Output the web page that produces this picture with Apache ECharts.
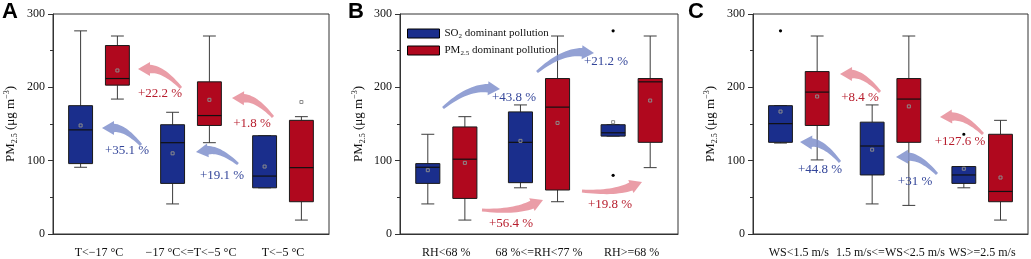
<!DOCTYPE html>
<html>
<head>
<meta charset="UTF-8">
<title>PM2.5 under SO2 / PM2.5 dominant pollution</title>
<script src="https://cdn.jsdelivr.net/npm/echarts@6/dist/echarts.min.js"></script>
<style>
  html, body { margin: 0; padding: 0; background: #fff; }
  #chart { width: 1031px; height: 259px; }
</style>
</head>
<body>
<div id="chart"></div>
<script>
// box stats are [min, Q1, median, Q3, max]
var catsA = ['T<\u221217 \u00B0C', '\u221217 \u00B0C<=T<\u22125 \u00B0C', 'T<\u22125 \u00B0C'];
var so2A = [[91, 96, 142, 175, 277], [41, 69, 124.5, 149, 166], [63, 63, 79, 134, 134]];
var so2MeanA = [148, 110, 92];
var pmA = [[184, 203, 212, 257, 270], [124.5, 148, 161.5, 207.5, 270], [19, 44, 90.5, 155, 160]];
var pmMeanA = [223, 183, 180];

var catsB = ['RH<68 %', '68 %<=RH<77 %', 'RH>=68 %'];
var so2B = [[41, 69, 91, 96, 136], [63, 70, 125, 166.5, 176], [133.5, 133.5, 138, 149, 149]];
var so2MeanB = [87, 127, 152.5];
var so2OutB = [[2, 277], [2, 80]];
var pmB = [[19, 48.5, 102, 146, 160], [44, 60, 173, 212, 270], [90.5, 125, 207.5, 212, 270]];
var pmMeanB = [97, 151.5, 182];

var catsC = ['WS<1.5 m/s', '1.5 m/s<=WS<2.5 m/s', 'WS>=2.5 m/s'];
var so2C = [[124, 125, 150.5, 175, 175], [41, 80.5, 120, 152.5, 176], [63, 69, 80.5, 92, 92]];
var so2MeanC = [167, 115, 89];
var so2OutC = [[0, 277], [2, 136]];
var pmC = [[101, 148, 193.5, 221.5, 270], [39, 125, 184, 212, 270], [19, 44, 58, 136, 155]];
var pmMeanC = [187.5, 174, 77];

var notesA = ['+22.2 %', '+1.8 %', '+35.1 %', '+19.1 %'];
var notesB = ['+43.8 %', '+21.2 %', '+56.4 %', '+19.8 %'];
var notesC = ['+8.4 %', '+127.6 %', '+44.8 %', '+31 %'];

var yTicks = [0, 100, 200, 300];

var BLUE = '#1a2e8c', RED = '#b0081e';
var TXT_BLUE = '#34469a', TXT_RED = '#b71c2c';
var ARR_BLUE = 'rgba(128,145,205,0.85)', ARR_RED = 'rgba(230,140,152,0.85)';
var SERIF = '"Liberation Serif", "Times New Roman", serif';
var SO2_NAME = 'SO2 dominant pollution', PM_NAME = 'PM2.5 dominant pollution';

var chart = echarts.init(document.getElementById('chart'));

function boxSeries(name, g, stats, means, color, shift) {
    return {
        name: name,
        type: 'custom',
        xAxisIndex: g,
        yAxisIndex: g,
        itemStyle: { color: color },
        encode: { x: 0, y: [1, 2, 3, 4, 5] },
        data: stats.map(function (s, i) { return [i, s[0], s[1], s[2], s[3], s[4], means[i]]; }),
        renderItem: function (params, api) {
            var cat = api.value(0);
            var band = api.size([1, 0])[0];
            var x = api.coord([cat, 0])[0] + shift * band;
            var hw = band * 0.13, cap = band * 0.07;
            function y(i) { return api.coord([cat, api.value(i)])[1]; }
            var yMin = y(1), yQ1 = y(2), yMed = y(3), yQ3 = y(4), yMax = y(5), yMean = y(6);
            var ln = { stroke: '#3c3c3c', lineWidth: 1 };
            return {
                type: 'group',
                children: [
                    { type: 'line', shape: { x1: x, y1: yQ3, x2: x, y2: yMax }, style: ln },
                    { type: 'line', shape: { x1: x, y1: yQ1, x2: x, y2: yMin }, style: ln },
                    { type: 'line', shape: { x1: x - cap, y1: yMax, x2: x + cap, y2: yMax }, style: ln },
                    { type: 'line', shape: { x1: x - cap, y1: yMin, x2: x + cap, y2: yMin }, style: ln },
                    { type: 'rect', shape: { x: x - hw, y: yQ3, width: 2 * hw, height: yQ1 - yQ3 },
                      style: { fill: color, stroke: '#1a1a1a', lineWidth: 1 } },
                    { type: 'line', shape: { x1: x - hw, y1: yMed, x2: x + hw, y2: yMed },
                      style: { stroke: '#111', lineWidth: 1.2 } },
                    { type: 'rect', shape: { x: x - 1.5, y: yMean - 1.5, width: 3, height: 3 },
                      style: { fill: 'none', stroke: '#8c8c8c', lineWidth: 1 } }
                ]
            };
        }
    };
}

function outlierSeries(g, pts, shift) {
    return {
        type: 'custom',
        xAxisIndex: g,
        yAxisIndex: g,
        data: pts,
        renderItem: function (params, api) {
            var band = api.size([1, 0])[0];
            var p = api.coord([api.value(0), api.value(1)]);
            return { type: 'circle', shape: { cx: p[0] + shift * band, cy: p[1], r: 1.6 }, style: { fill: '#000' } };
        }
    };
}

// curved fat arrow from tail to tip
function swoosh(tip, tail, bend, color) {
    var dx = tip[0] - tail[0], dy = tip[1] - tail[1], L = Math.sqrt(dx * dx + dy * dy);
    var nx = -dy / L, ny = dx / L;
    var c = [(tip[0] + tail[0]) / 2 + nx * bend * L, (tip[1] + tail[1]) / 2 + ny * bend * L];
    var hx = tip[0] - c[0], hy = tip[1] - c[1], hl = Math.sqrt(hx * hx + hy * hy);
    hx /= hl; hy /= hl;
    var headLen = 12, headW = 7, w0 = 1.4, w1 = 4.3;
    var base = [tip[0] - hx * headLen, tip[1] - hy * headLen];
    var left = [], right = [];
    for (var i = 0; i <= 16; i++) {
        var s = i / 16;
        var px = (1 - s) * (1 - s) * tail[0] + 2 * s * (1 - s) * c[0] + s * s * base[0];
        var py = (1 - s) * (1 - s) * tail[1] + 2 * s * (1 - s) * c[1] + s * s * base[1];
        var tx = 2 * (1 - s) * (c[0] - tail[0]) + 2 * s * (base[0] - c[0]);
        var ty = 2 * (1 - s) * (c[1] - tail[1]) + 2 * s * (base[1] - c[1]);
        var tl = Math.sqrt(tx * tx + ty * ty); tx /= tl; ty /= tl;
        var w = w0 + (w1 - w0) * s;
        left.push([px - ty * w, py + tx * w]);
        right.push([px + ty * w, py - tx * w]);
    }
    var pts = left.concat([[base[0] - hy * headW, base[1] + hx * headW], tip,
        [base[0] + hy * headW, base[1] - hx * headW]], right.reverse());
    return { type: 'polygon', z: 5, shape: { points: pts }, style: { fill: color } };
}

function note(text, x, y, color) {
    return { type: 'text', z: 6, x: x, y: y,
        style: { text: text, fill: color, font: '13px ' + SERIF, align: 'center', verticalAlign: 'middle' } };
}

// annotation layout: [text, text x, text y, tip, tail, bend, colour]
var noteLayout = [
    [notesA[0], 160, 94, [138, 69], [181, 88], 0.22, 'r'],
    [notesA[1], 252, 124, [232, 98], [273, 117], 0.22, 'r'],
    [notesA[2], 127, 151, [102, 128], [141, 145], 0.22, 'b'],
    [notesA[3], 222, 176, [196, 152], [238, 164], 0.22, 'b'],
    [notesB[0], 514, 98, [500, 89], [443, 108], -0.2, 'b'],
    [notesB[1], 606, 62, [594, 53], [537, 72], -0.2, 'b'],
    [notesB[2], 511, 224, [543, 200], [482, 210], 0.12, 'r'],
    [notesB[3], 610, 205, [642, 182], [582, 191], 0.12, 'r'],
    [notesC[0], 860, 98, [840, 74], [880, 92], 0.22, 'r'],
    [notesC[1], 960, 142, [940, 117], [983, 134], 0.22, 'r'],
    [notesC[2], 820, 170, [800, 142], [840, 162], 0.22, 'b'],
    [notesC[3], 915, 182, [896, 157], [937, 174], 0.22, 'b']
];

var graphics = [];
noteLayout.forEach(function (n) {
    var red = n[6] === 'r';
    graphics.push(swoosh(n[3], n[4], n[5], red ? ARR_RED : ARR_BLUE));
    graphics.push(note(n[0], n[1], n[2], red ? TXT_RED : TXT_BLUE));
});

var grids = [
    { left: 53, top: 14, width: 276, height: 221 },
    { left: 400, top: 14, width: 278, height: 221 },
    { left: 753, top: 14, width: 275, height: 221 }
];
var nameGaps = [34, 33, 34];
var allCats = [catsA, catsB, catsC];

var axisLineStyle = { color: '#333', width: 1 };
var richName = {
    t: { fontFamily: SERIF, fontSize: 13, color: '#111', lineHeight: 16 },
    s: { fontFamily: SERIF, fontSize: 8, color: '#111', verticalAlign: 'bottom', lineHeight: 8 },
    p: { fontFamily: SERIF, fontSize: 8, color: '#111', verticalAlign: 'top', lineHeight: 8 }
};
var richLegend = {
    t: { fontFamily: SERIF, fontSize: 11, color: '#111', lineHeight: 13 },
    s: { fontFamily: SERIF, fontSize: 7, color: '#111', verticalAlign: 'bottom', lineHeight: 7 }
};
var letterStyle = { fontFamily: '"Liberation Sans", Arial, sans-serif', fontWeight: 'bold', fontSize: 22, color: '#000' };

var option = {
    animation: false,
    title: [
        { text: 'A', left: 2, top: 1, padding: 0, textStyle: letterStyle },
        { text: 'B', left: 348, top: 1, padding: 0, textStyle: letterStyle },
        { text: 'C', left: 688, top: 1, padding: 0, textStyle: letterStyle }
    ],
    legend: {
        data: [SO2_NAME, PM_NAME],
        orient: 'vertical',
        left: 407,
        top: 28,
        padding: 0,
        itemGap: 5,
        itemWidth: 32,
        itemHeight: 9,
        icon: 'rect',
        itemStyle: { borderColor: '#000', borderWidth: 1 },
        formatter: function (name) {
            return name === SO2_NAME ? '{t|SO}{s|2}{t| dominant pollution}' : '{t|PM}{s|2.5}{t| dominant pollution}';
        },
        textStyle: { rich: richLegend }
    },
    grid: grids.map(function (g) {
        return { left: g.left, top: g.top, width: g.width, height: g.height, show: true, borderColor: '#333', borderWidth: 1, backgroundColor: 'transparent' };
    }),
    xAxis: allCats.map(function (cats, i) {
        return {
            type: 'category', gridIndex: i, data: cats,
            axisLine: { lineStyle: axisLineStyle },
            axisTick: { alignWithLabel: true, length: 5, lineStyle: axisLineStyle },
            axisLabel: { interval: 0, margin: 13, fontFamily: SERIF, fontSize: 12, color: '#111' }
        };
    }),
    yAxis: grids.map(function (g, i) {
        return {
            type: 'value', gridIndex: i, min: yTicks[0], max: yTicks[yTicks.length - 1], interval: 100,
            axisLine: { show: true, lineStyle: axisLineStyle },
            axisTick: { show: true, length: 5, lineStyle: axisLineStyle },
            minorTick: { show: true, splitNumber: 2, length: 3, lineStyle: axisLineStyle },
            splitLine: { show: false },
            axisLabel: { margin: 8, fontFamily: SERIF, fontSize: 12, color: '#111' },
            name: '{t|PM}{s|2.5}{t| (\u03BCg m}{p|\u22123}{t|)}',
            nameLocation: 'middle',
            nameGap: nameGaps[i],
            nameTextStyle: { rich: richName }
        };
    }),
    series: [
        boxSeries(SO2_NAME, 0, so2A, so2MeanA, BLUE, -0.2),
        boxSeries(PM_NAME, 0, pmA, pmMeanA, RED, 0.2),
        boxSeries(SO2_NAME, 1, so2B, so2MeanB, BLUE, -0.2),
        boxSeries(PM_NAME, 1, pmB, pmMeanB, RED, 0.2),
        outlierSeries(1, so2OutB, -0.2),
        boxSeries(SO2_NAME, 2, so2C, so2MeanC, BLUE, -0.2),
        boxSeries(PM_NAME, 2, pmC, pmMeanC, RED, 0.2),
        outlierSeries(2, so2OutC, -0.2)
    ],
    graphic: graphics
};

chart.setOption(option);
</script>
</body>
</html>
